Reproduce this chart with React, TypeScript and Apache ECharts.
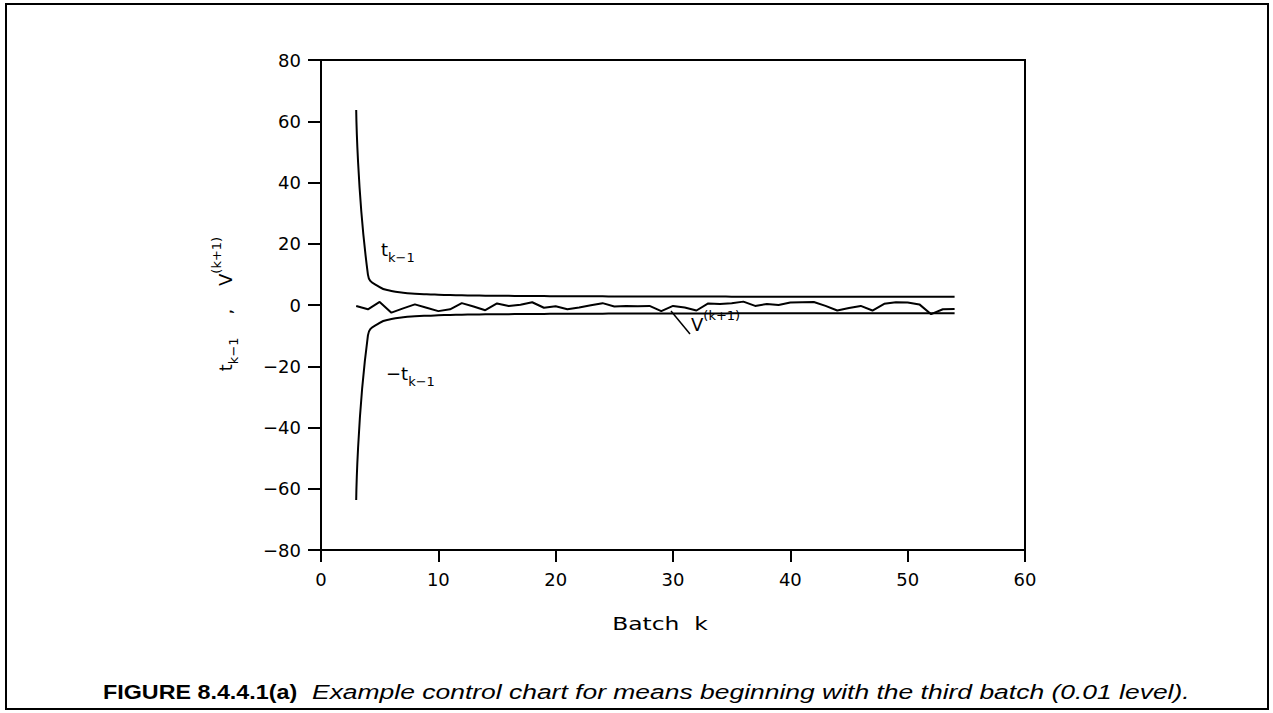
import React, { useEffect, useRef } from "react";
import * as echarts from "echarts";

// Batch numbers k
const batchK = [
  3, 4, 5, 6, 7, 8, 9, 10, 11, 12, 13, 14, 15, 16, 17, 18, 19, 20, 21, 22, 23, 24, 25, 26, 27, 28,
  29, 30, 31, 32, 33, 34, 35, 36, 37, 38, 39, 40, 41, 42, 43, 44, 45, 46, 47, 48, 49, 50, 51, 52, 53, 54,
];

// Upper control limit t_{k-1}
const tUpper = [
  63.66, 9.92, 5.84, 4.6, 4.03, 3.71, 3.5, 3.36, 3.25, 3.17, 3.11, 3.05, 3.01, 2.98, 2.95, 2.92, 2.9,
  2.88, 2.86, 2.85, 2.83, 2.82, 2.81, 2.8, 2.79, 2.78, 2.77, 2.76, 2.76, 2.75, 2.74, 2.74, 2.73, 2.73,
  2.72, 2.72, 2.72, 2.71, 2.71, 2.7, 2.7, 2.7, 2.7, 2.69, 2.69, 2.69, 2.68, 2.68, 2.68, 2.68, 2.68, 2.67,
];

// Lower control limit -t_{k-1}
const tLower = [
  -63.66, -9.92, -5.84, -4.6, -4.03, -3.71, -3.5, -3.36, -3.25, -3.17, -3.11, -3.05, -3.01, -2.98,
  -2.95, -2.92, -2.9, -2.88, -2.86, -2.85, -2.83, -2.82, -2.81, -2.8, -2.79, -2.78, -2.77, -2.76,
  -2.76, -2.75, -2.74, -2.74, -2.73, -2.73, -2.72, -2.72, -2.72, -2.71, -2.71, -2.7, -2.7, -2.7,
  -2.7, -2.69, -2.69, -2.69, -2.68, -2.68, -2.68, -2.68, -2.68, -2.67,
];

// Statistic V^{(k+1)}
const vValues = [
  -0.3, -1.4, 1.0, -2.5, -1.1, 0.2, -0.9, -2.0, -1.4, 0.6, -0.5, -1.7, 0.5, -0.3, 0.1, 0.9, -0.9,
  -0.4, -1.4, -0.8, -0.1, 0.6, -0.5, -0.3, -0.4, -0.3, -2.0, -0.3, -0.8, -1.8, 0.5, 0.3, 0.6, 1.1,
  -0.3, 0.3, 0.0, 0.8, 0.9, 1.0, -0.3, -1.8, -1.0, -0.3, -1.8, 0.4, 0.9, 0.8, 0.2, -3.0, -1.4, -1.3,
];

const xTickValues = { min: 0, max: 60, interval: 10 };
const yTickValues = { min: -80, max: 80, interval: 20 };

const captionBold = "FIGURE 8.4.4.1(a)";
const captionItalic = "Example control chart for means beginning with the third batch (0.01 level).";

export default function App() {
  const ref = useRef<HTMLDivElement>(null);

  useEffect(() => {
    if (!ref.current) return;
    const chart = echarts.init(ref.current, null, { renderer: "svg" });
    const font = "DejaVu Sans";
    const tok = (fontSize: number, lineHeight: number, verticalAlign: string) => ({
      fontFamily: font,
      fontSize,
      lineHeight,
      fill: "#000",
      color: "#000",
      verticalAlign,
    });
    const rich: any = {
      b: tok(18, 30, "middle"),
      sub: tok(13, 14, "bottom"),
      sup: tok(13, 14, "top"),
    };
    const pair = (ys: number[]) => batchK.map((k, i) => [k, ys[i]]);
    const lineStyle = { color: "#000", width: 2 };

    chart.setOption({
      animation: false,
      backgroundColor: "#fff",
      grid: {
        left: 321,
        right: 248,
        top: 60,
        bottom: 163,
        show: true,
        borderColor: "#000",
        borderWidth: 2,
        backgroundColor: "transparent",
      },
      xAxis: {
        type: "value",
        min: xTickValues.min,
        max: xTickValues.max,
        interval: xTickValues.interval,
        axisLine: { lineStyle: { color: "#000", width: 2 }, onZero: false },
        axisTick: { show: true, length: 12, lineStyle: { color: "#000", width: 2 } },
        axisLabel: { color: "#000", fontFamily: font, fontSize: 18, margin: 20 },
        splitLine: { show: false },
      },
      yAxis: {
        type: "value",
        min: yTickValues.min,
        max: yTickValues.max,
        interval: yTickValues.interval,
        axisLine: { show: true, lineStyle: { color: "#000", width: 2 }, onZero: false },
        axisTick: { show: true, length: 13, lineStyle: { color: "#000", width: 2 } },
        axisLabel: {
          color: "#000",
          fontFamily: font,
          fontSize: 18,
          margin: 20,
          formatter: (v: number) => (v < 0 ? "\u2212" + Math.abs(v) : String(v)),
        },
        splitLine: { show: false },
      },
      series: [
        {
          type: "line",
          data: pair(tUpper),
          symbol: "none",
          smooth: 0.5,
          lineStyle,
        },
        {
          type: "line",
          data: pair(tLower),
          symbol: "none",
          smooth: 0.5,
          lineStyle,
        },
        {
          type: "line",
          data: pair(vValues),
          symbol: "none",
          lineStyle,
        },
      ],
      graphic: [
        {
          type: "rect",
          shape: { x: 6, y: 4, width: 1262, height: 705 },
          style: { fill: "none", stroke: "#000", lineWidth: 2 },
        },
        {
          type: "text",
          x: 225,
          y: 304,
          rotation: Math.PI / 2,
          style: {
            text: "{b|t}{sub|k\u22121}{b|    ,    }{b|V}{sup|(k+1)}",
            rich,
            align: "center",
            verticalAlign: "middle",
          },
        },
        {
          type: "text",
          x: 381,
          y: 249,
          style: { text: "{b|t}{sub|k\u22121}", rich, align: "left", verticalAlign: "middle" },
        },
        {
          type: "text",
          x: 386,
          y: 373,
          style: { text: "{b|\u2212t}{sub|k\u22121}", rich, align: "left", verticalAlign: "middle" },
        },
        {
          type: "line",
          shape: { x1: 671, y1: 311, x2: 690, y2: 334 },
          style: { stroke: "#000", lineWidth: 1.5 },
        },
        {
          type: "text",
          x: 691,
          y: 324,
          style: { text: "{b|V}{sup|(k+1)}", rich, align: "left", verticalAlign: "middle" },
        },
        {
          type: "text",
          x: 660,
          y: 624,
          scaleX: 1.3,
          style: {
            text: "Batch  k",
            fontFamily: font,
            fontSize: 18,
            fill: "#000",
            align: "center",
            verticalAlign: "middle",
          },
        },
        {
          type: "text",
          x: 103,
          y: 692,
          scaleX: 1.11,
          style: {
            text: captionBold,
            fontFamily: "Liberation Sans",
            fontWeight: "bold",
            fontSize: 21,
            fill: "#000",
            align: "left",
            verticalAlign: "middle",
          },
        },
        {
          type: "text",
          x: 312,
          y: 692,
          scaleX: 1.26,
          style: {
            text: captionItalic,
            fontFamily: "Liberation Sans",
            fontStyle: "italic",
            fontSize: 21,
            fill: "#000",
            align: "left",
            verticalAlign: "middle",
          },
        },
      ],
    });
    return () => chart.dispose();
  }, []);

  return (
    <div
      ref={ref}
      style={{ position: "fixed", left: 0, top: 0, width: 1273, height: 713, background: "#fff" }}
    />
  );
}
